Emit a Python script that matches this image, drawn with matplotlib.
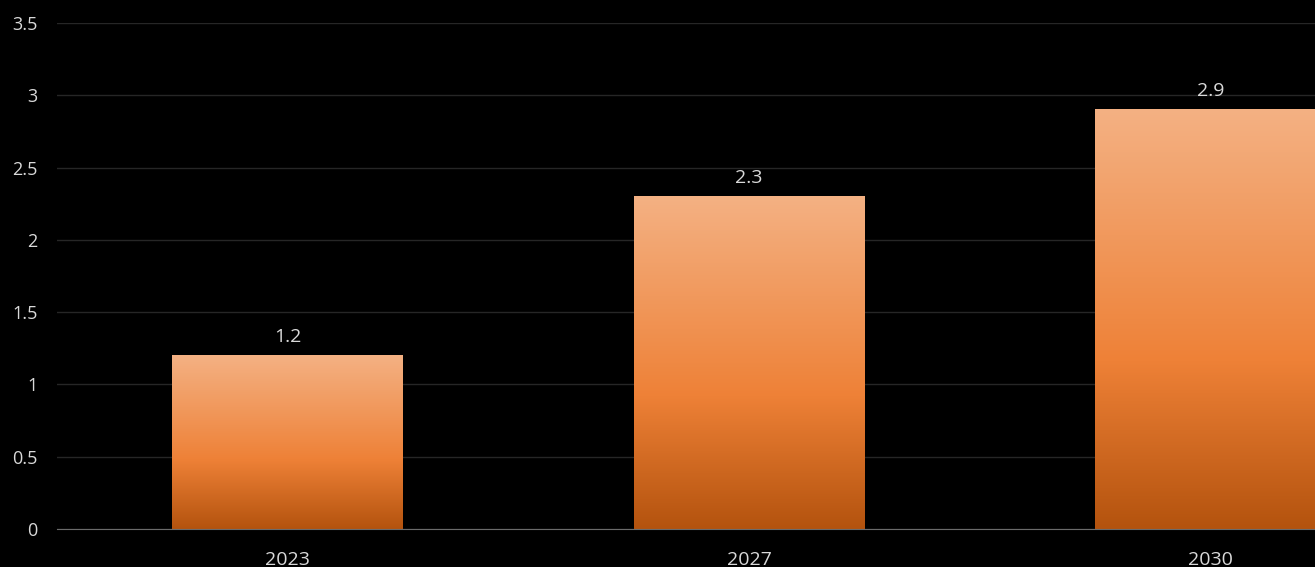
import numpy as np
import matplotlib.pyplot as plt
from matplotlib.colors import LinearSegmentedColormap

years = ['2023', '2027', '2030']
values = [1.2, 2.3, 2.9]
yticks = [0, 0.5, 1, 1.5, 2, 2.5, 3, 3.5]
ytick_labels = ['0', '0.5', '1', '1.5', '2', '2.5', '3', '3.5']

plt.rcParams['font.family'] = ['Open Sans', 'DejaVu Sans']

fig = plt.figure(figsize=(13.15, 5.67), dpi=100, facecolor='black')
# axes runs past the right edge, like the cropped original
ax = fig.add_axes([57 / 1315, 38 / 567, 1384 / 1315, 506 / 567])
ax.set_facecolor('black')

# gradient: light peach at top, orange in middle, dark at the bottom
cmap = LinearSegmentedColormap.from_list(
    'bar', [(0.0, '#B4530E'), (0.4, '#EE8137'), (1.0, '#F4B183')])
grad = np.linspace(0, 1, 256).reshape(-1, 1)

x = np.arange(len(years))
width = 0.5
bars = ax.bar(x, values, width=width, color='none', zorder=3)
for b in bars:
    x0, y0 = b.get_x(), b.get_y()
    ax.imshow(grad, cmap=cmap, origin='lower', aspect='auto', zorder=3,
              extent=[x0, x0 + b.get_width(), y0, y0 + b.get_height()])

for xi, v in zip(x, values):
    ax.annotate(f'{v}', (xi, v), xytext=(0, 7), textcoords='offset points',
                ha='center', va='bottom', color='#D9D9D9', fontsize=14)

ax.set_xlim(-0.5, 2.5)
ax.set_ylim(0, 3.5)
ax.set_xticks(x)
ax.set_xticklabels(years)
ax.set_yticks(yticks)
ax.set_yticklabels(ytick_labels)
ax.tick_params(axis='x', length=0, pad=16, colors='#D9D9D9', labelsize=14)
ax.tick_params(axis='y', length=0, pad=14, colors='#D9D9D9', labelsize=13)

ax.grid(axis='y', color='#262626', linewidth=1, zorder=0)
for s in ['top', 'right', 'left']:
    ax.spines[s].set_visible(False)
ax.spines['bottom'].set_color('#6b6b6b')
ax.spines['bottom'].set_zorder(4)

fig.savefig('out.png', dpi=100, facecolor='black')
